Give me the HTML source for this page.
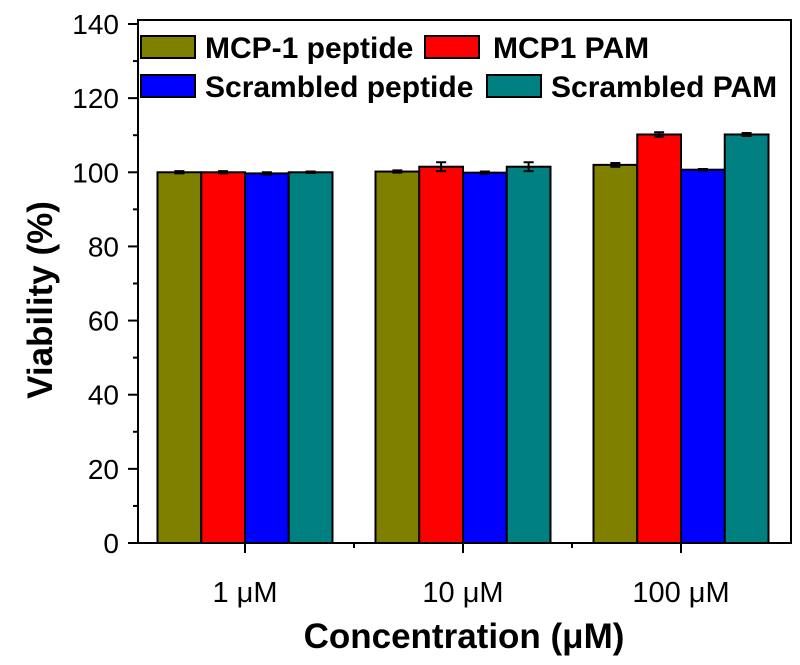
<!DOCTYPE html>
<html><head><meta charset="utf-8"><style>body{margin:0;background:#fff}svg text{font-family:"Liberation Sans",Arial,sans-serif}</style></head>
<body>
<svg id="chart" width="800" height="660"></svg>
<script>
const categories=["1 μM","10 μM","100 μM"];
const seriesNames=["MCP-1 peptide","MCP1 PAM","Scrambled peptide","Scrambled PAM"];
const seriesColors=["#808000","#ff0000","#0000ff","#008080"];
const mcp1Peptide=[100,100.2,102];
const mcp1Pam=[100,101.5,110.2];
const scrambledPeptide=[99.7,99.9,100.7];
const scrambledPam=[100,101.5,110.2];
const mcp1PeptideErr=[0.3,0.3,0.5];
const mcp1PamErr=[0.3,1.2,0.6];
const scrambledPeptideErr=[0.3,0.3,0.2];
const scrambledPamErr=[0.2,1.2,0.4];
const yTicks=[0,20,40,60,80,100,120,140];
const allVals=[mcp1Peptide,mcp1Pam,scrambledPeptide,scrambledPam];
const allErr=[mcp1PeptideErr,mcp1PamErr,scrambledPeptideErr,scrambledPamErr];

const svg=document.getElementById('chart');const NS='http://www.w3.org/2000/svg';
function mk(t,a,p){const e=document.createElementNS(NS,t);for(const k in a)e.setAttribute(k,a[k]);(p||svg).appendChild(e);return e;}
const L=138,R=791,T=20,Y0=543,Y140=24;
const B=Y0;
const y=v=>Y0-(v/140)*(Y0-Y140);
const groupCenter=i=>245+i*218;
const bw=43.75;
// ticks
for(let v=0;v<=140;v+=10){const major=v%20===0;const t=mk('line',{x1:L-(major?10:5),x2:L,y1:y(v),y2:y(v),stroke:'#000','stroke-width':2});
}
yTicks.forEach(v=>{const t=mk('text',{x:119,y:y(v)+10,'text-anchor':'end','font-size':28});t.textContent=v;
});
categories.forEach((c,i)=>{const tk=mk('line',{x1:groupCenter(i),x2:groupCenter(i),y1:B,y2:B+10,stroke:'#000','stroke-width':2});

if(i<categories.length-1){const m=mk('line',{x1:groupCenter(i)+109,x2:groupCenter(i)+109,y1:B,y2:B+5,stroke:'#000','stroke-width':2});
}
const t=mk('text',{x:groupCenter(i),y:602,'text-anchor':'middle','font-size':29});t.textContent=c;
});
// bars
allVals.forEach((vals,s)=>{vals.forEach((v,i)=>{const x=groupCenter(i)-2*bw+s*bw;
const b=mk('rect',{x:x,y:y(v),width:bw,height:B-y(v),fill:seriesColors[s],stroke:'#000','stroke-width':2});

const cx=x+bw/2,e=allErr[s][i];
const g=mk('path',{d:`M${cx},${y(v+e)}V${y(v-e)}M${cx-5},${y(v+e)}H${cx+5}M${cx-5},${y(v-e)}H${cx+5}`,stroke:'#000','stroke-width':2,fill:'none'});
});});
const fr=mk('rect',{x:L,y:T,width:R-L,height:B-T,fill:'none',stroke:'#000','stroke-width':2});

// legend
const leg=[[141,36,205],[425,36,493],[141,75,205],[487,75,551]];
leg.forEach((p,s)=>{const r=mk('rect',{x:p[0],y:p[1],width:54,height:22,fill:seriesColors[s],stroke:'#000','stroke-width':2});

const t=mk('text',{x:p[2],y:p[1]+22,'font-size':30,'font-weight':'bold'});t.textContent=seriesNames[s];
});
const xt=mk('text',{x:464,y:648,'text-anchor':'middle','font-size':35,'font-weight':'bold'});xt.textContent='Concentration (μM)';

const yt=mk('text',{x:0,y:0,'text-anchor':'middle','font-size':35,'font-weight':'bold',transform:'translate(52,300) rotate(-90)'});yt.textContent='Viability (%)';

</script>
</body></html>
